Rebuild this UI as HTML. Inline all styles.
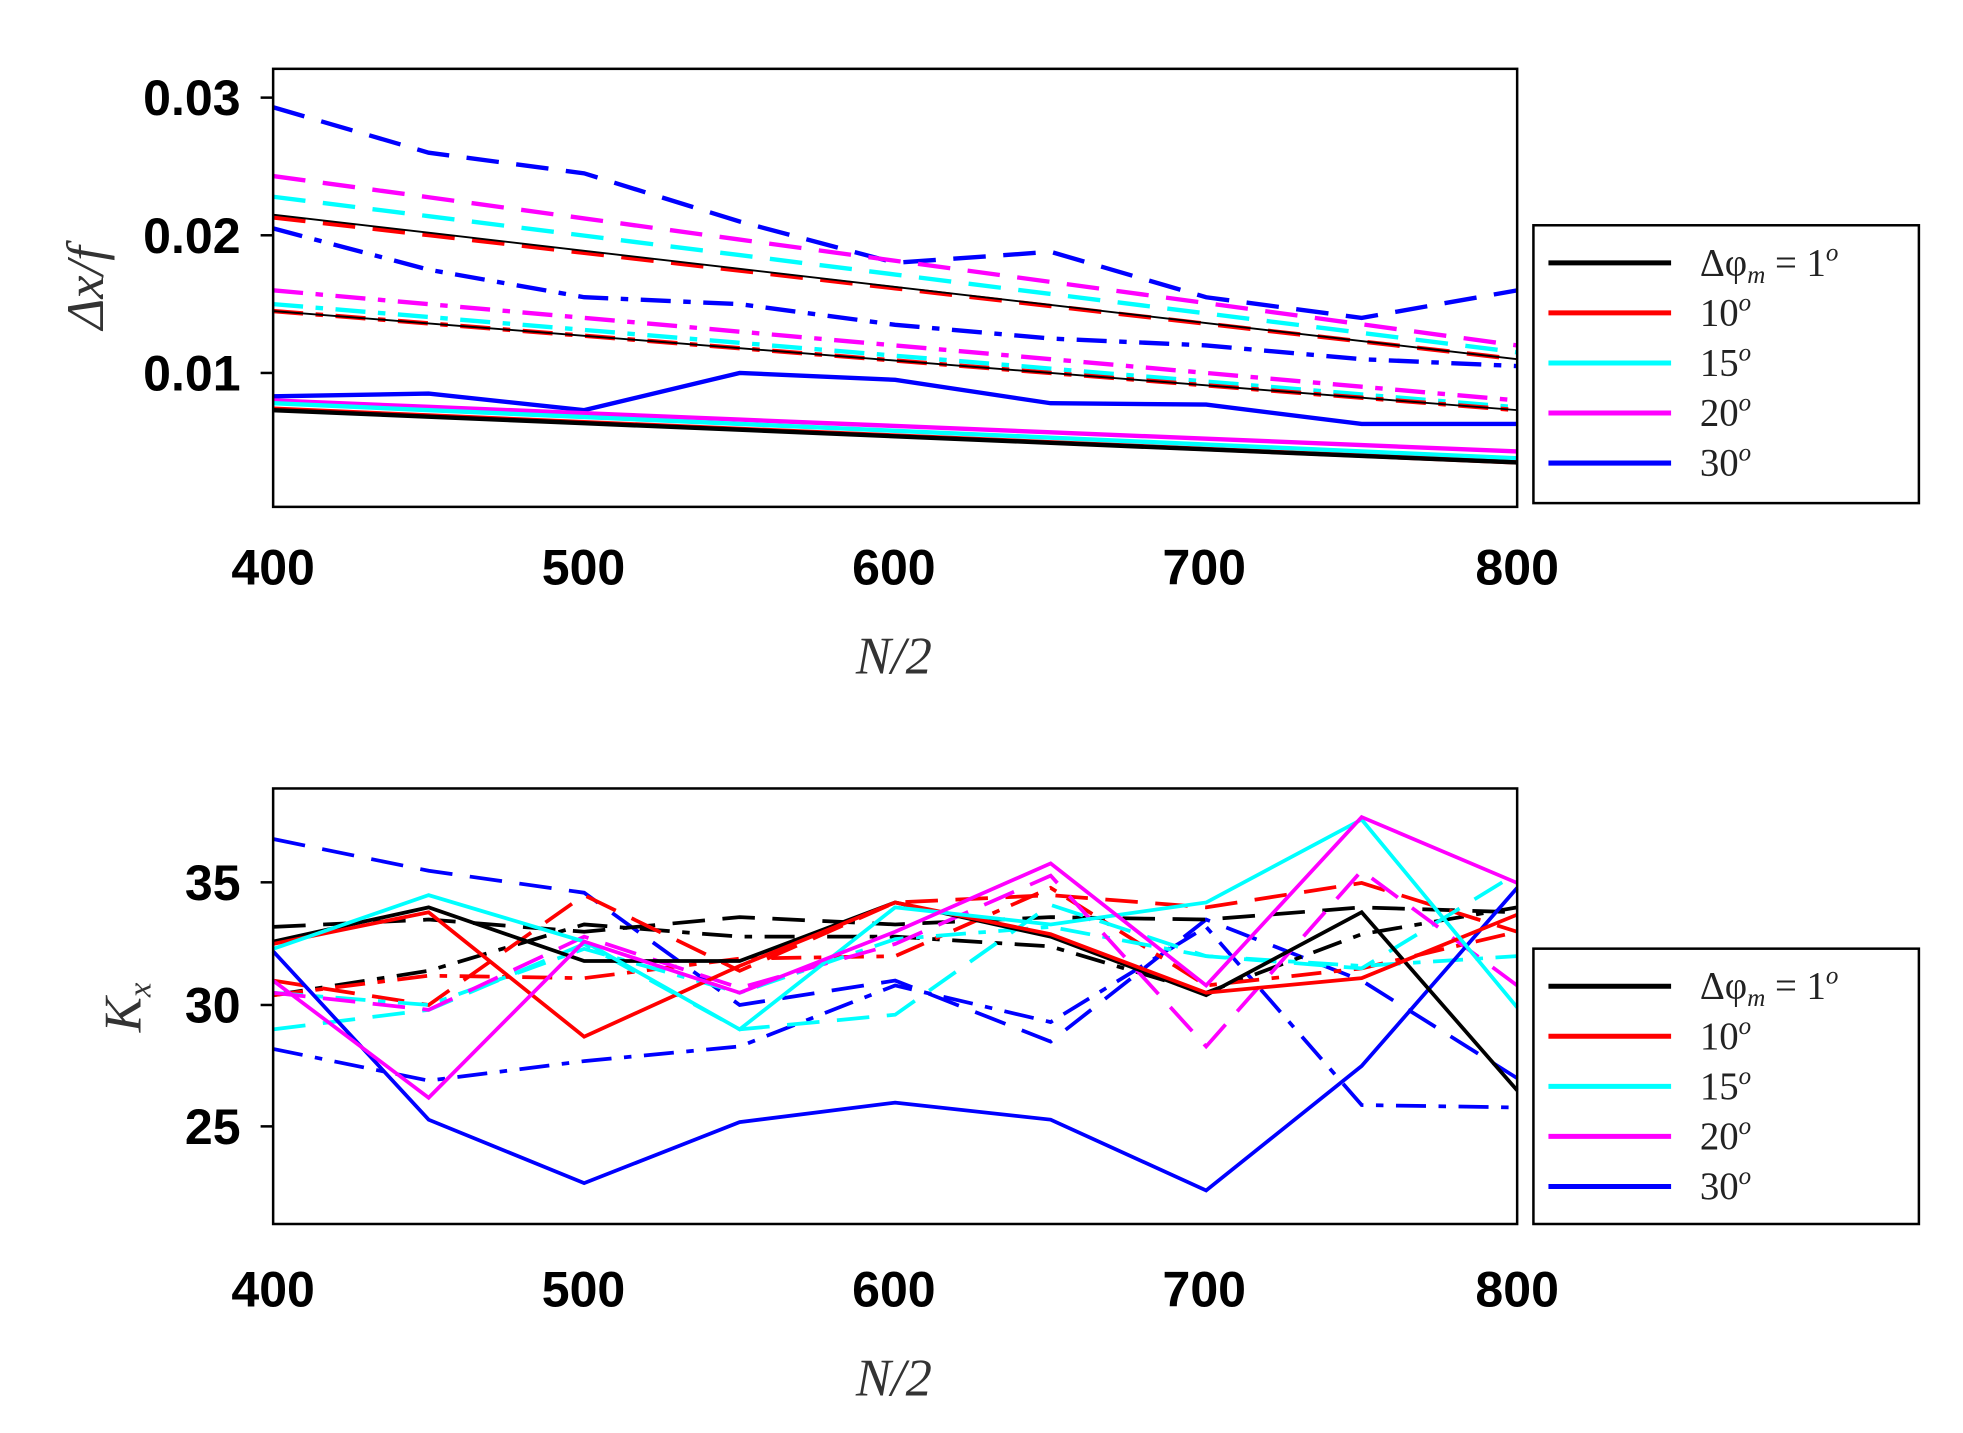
<!DOCTYPE html>
<html><head><meta charset="utf-8"><style>
html,body{margin:0;padding:0;background:#fff;}
svg{display:block;}
.tk{font-family:"Liberation Sans",sans-serif;font-weight:bold;font-size:40px;fill:#000;}
.ax{font-family:"Liberation Serif",serif;font-style:italic;font-size:42px;fill:#333;}
.lg{font-family:"Liberation Serif",serif;font-size:31px;fill:#222;}
</style></head><body>
<svg id="s" width="1963" height="1433" viewBox="0 0 1568 1145" xmlns="http://www.w3.org/2000/svg">
<rect width="1568" height="1145" fill="#fff"/>
<g id="top"></g><g id="bot"></g>
<rect x="218" y="55" width="994" height="350" fill="none" stroke="#000" stroke-width="2"/>
<rect x="218" y="630" width="994" height="348" fill="none" stroke="#000" stroke-width="2"/>
<g stroke="#000" stroke-width="2">
<line x1="208" y1="78" x2="218" y2="78"/><line x1="208" y1="188" x2="218" y2="188"/><line x1="208" y1="298" x2="218" y2="298"/>
<line x1="208" y1="705" x2="218" y2="705"/><line x1="208" y1="803" x2="218" y2="803"/><line x1="208" y1="900" x2="218" y2="900"/>
</g>
<text class="tk" x="192" y="92" text-anchor="end">0.03</text>
<text class="tk" x="192" y="202" text-anchor="end">0.02</text>
<text class="tk" x="192" y="312" text-anchor="end">0.01</text>
<text class="tk" x="192" y="719" text-anchor="end">35</text>
<text class="tk" x="192" y="817" text-anchor="end">30</text>
<text class="tk" x="192" y="914" text-anchor="end">25</text>
<g class="tk" text-anchor="middle">
<text x="218" y="467">400</text><text x="466" y="467">500</text><text x="714" y="467">600</text><text x="962" y="467">700</text><text x="1212" y="467">800</text>
<text x="218" y="1044">400</text><text x="466" y="1044">500</text><text x="714" y="1044">600</text><text x="962" y="1044">700</text><text x="1212" y="1044">800</text>
</g>
<text class="ax" x="714" y="538" text-anchor="middle">N/2</text>
<text class="ax" x="714" y="1115" text-anchor="middle">N/2</text>
<text class="ax" transform="translate(82,230) rotate(-90)" text-anchor="middle">Δx/f</text>
<text class="ax" transform="translate(112,805) rotate(-90)" text-anchor="middle">K<tspan font-size="26" dy="8">x</tspan></text>
<g id="leg1"></g><g id="leg2"></g>
</svg>
<script>
const NS="http://www.w3.org/2000/svg";
const X=n=>218+(n-400)*994/400;
const yt=v=>298-(v-0.01)*11000;
const yb=k=>803-(k-30)*19.5;
const xs=[400,450,500,550,600,650,700,750,800];
const C={k:"#000",r:"#f00",c:"#0ff",m:"#f0f",b:"#00f"};
const DS={s:"",d:"26,14",dd:"24,10,6,10"};
function lin(a,b){return xs.map((x,i)=>a+(b-a)*i/8);}
function add(g,col,st,vals,yf,w){
 const p=document.createElementNS(NS,"polyline");
 p.setAttribute("points",vals.map((v,i)=>X(xs[i])+","+yf(v)).join(" "));
 p.setAttribute("fill","none");p.setAttribute("stroke",col);p.setAttribute("stroke-width",w||3.5);
 if(DS[st])p.setAttribute("stroke-dasharray",DS[st]);
 document.getElementById(g).appendChild(p);
}
const T=[
["b","d",[0.0293,0.026,0.0245,0.021,0.018,0.0188,0.0155,0.014,0.016]],
["m","d",lin(0.0243,0.012)],["c","d",lin(0.0228,0.0115)],["r","d",lin(0.0213,0.011)],
["b","dd",[0.0205,0.0175,0.0155,0.015,0.0135,0.0125,0.012,0.011,0.0105]],
["m","dd",lin(0.016,0.008)],["c","dd",lin(0.015,0.0075)],["r","dd",lin(0.0145,0.0073)],
["b","s",[0.0083,0.0085,0.0073,0.0100,0.0095,0.0078,0.0077,0.0063,0.0063]],
["m","s",lin(0.008,0.0043)],["c","s",lin(0.0078,0.0038)],["r","s",lin(0.0074,0.0035)],["k","s",lin(0.0073,0.0035)]
];
T.forEach(t=>add("top",C[t[0]],t[1],t[2],yt));
add("top","#000","s",lin(0.0215,0.011),yt,1.5);
add("top","#000","s",lin(0.0145,0.0073),yt,1.5);
const B=[
["b","d",[36.8,35.5,34.6,30,31,28.5,33.5,31,27]],
["b","dd",[28.2,26.9,27.7,28.3,30.8,29.3,33.2,25.9,25.8]],
["k","d",[33.2,33.5,33.0,33.6,33.3,33.6,33.5,34,33.8]],
["k","dd",[30.4,31.4,33.3,32.8,32.8,32.4,30.5,32.9,34.0]],
["r","d",[31,30,34.5,31.4,34.2,34.5,34,35,33]],
["r","dd",[30.4,31.2,31.1,31.9,32.0,34.8,30.8,31.5,33]],
["c","d",[29,29.8,32.5,29.0,29.6,34.1,32,31.5,35.4]],
["c","dd",[30.5,30,32.3,30.5,32.7,33.2,32,31.6,32]],
["m","d",[30.5,29.8,32.8,30.7,32.5,35.3,28.3,35.5,30.8]],
["b","s",[32.2,25.3,22.7,25.2,26,25.3,22.4,27.5,34.8]],
["k","s",[32.6,34,31.8,31.8,34.2,32.8,30.4,33.8,26.5]],
["r","s",[32.5,33.8,28.7,31.6,34.2,32.9,30.5,31.1,33.7]],
["c","s",[32.3,34.5,32.6,29.0,34.0,33.3,34.2,37.6,29.9]],
["m","s",[31.0,26.2,32.6,30.5,33.0,35.8,30.8,37.7,35.0]]
];
B.forEach(t=>add("bot",C[t[0]],t[1],t[2],yb,3));
function legend(g,y0){
 const el=document.getElementById(g);
 let h='<rect x="1225" y="'+y0+'" width="308" height="'+(y0===180?222:220)+'" fill="#fff" stroke="#000" stroke-width="2"/>';
 const labs=[["k",'Δφ<tspan font-size="20" dy="6" font-style="italic">m</tspan><tspan dy="-6"> = 1</tspan><tspan font-size="20" dy="-12" font-style="italic">o</tspan>'],["r","10"],["c","15"],["m","20"],["b","30"]];
 labs.forEach((l,i)=>{const y=y0+30+i*40;
  h+='<line x1="1237" x2="1335" y1="'+y+'" y2="'+y+'" stroke="'+C[l[0]]+'" stroke-width="4"/>';
  h+='<text class="lg" x="1358" y="'+(y+10)+'">'+l[1]+(i?'<tspan font-size="20" dy="-12" font-style="italic">o</tspan>':'')+'</text>';});
 el.innerHTML=h;
}
legend("leg1",180);legend("leg2",758);
</script>
</body></html>
